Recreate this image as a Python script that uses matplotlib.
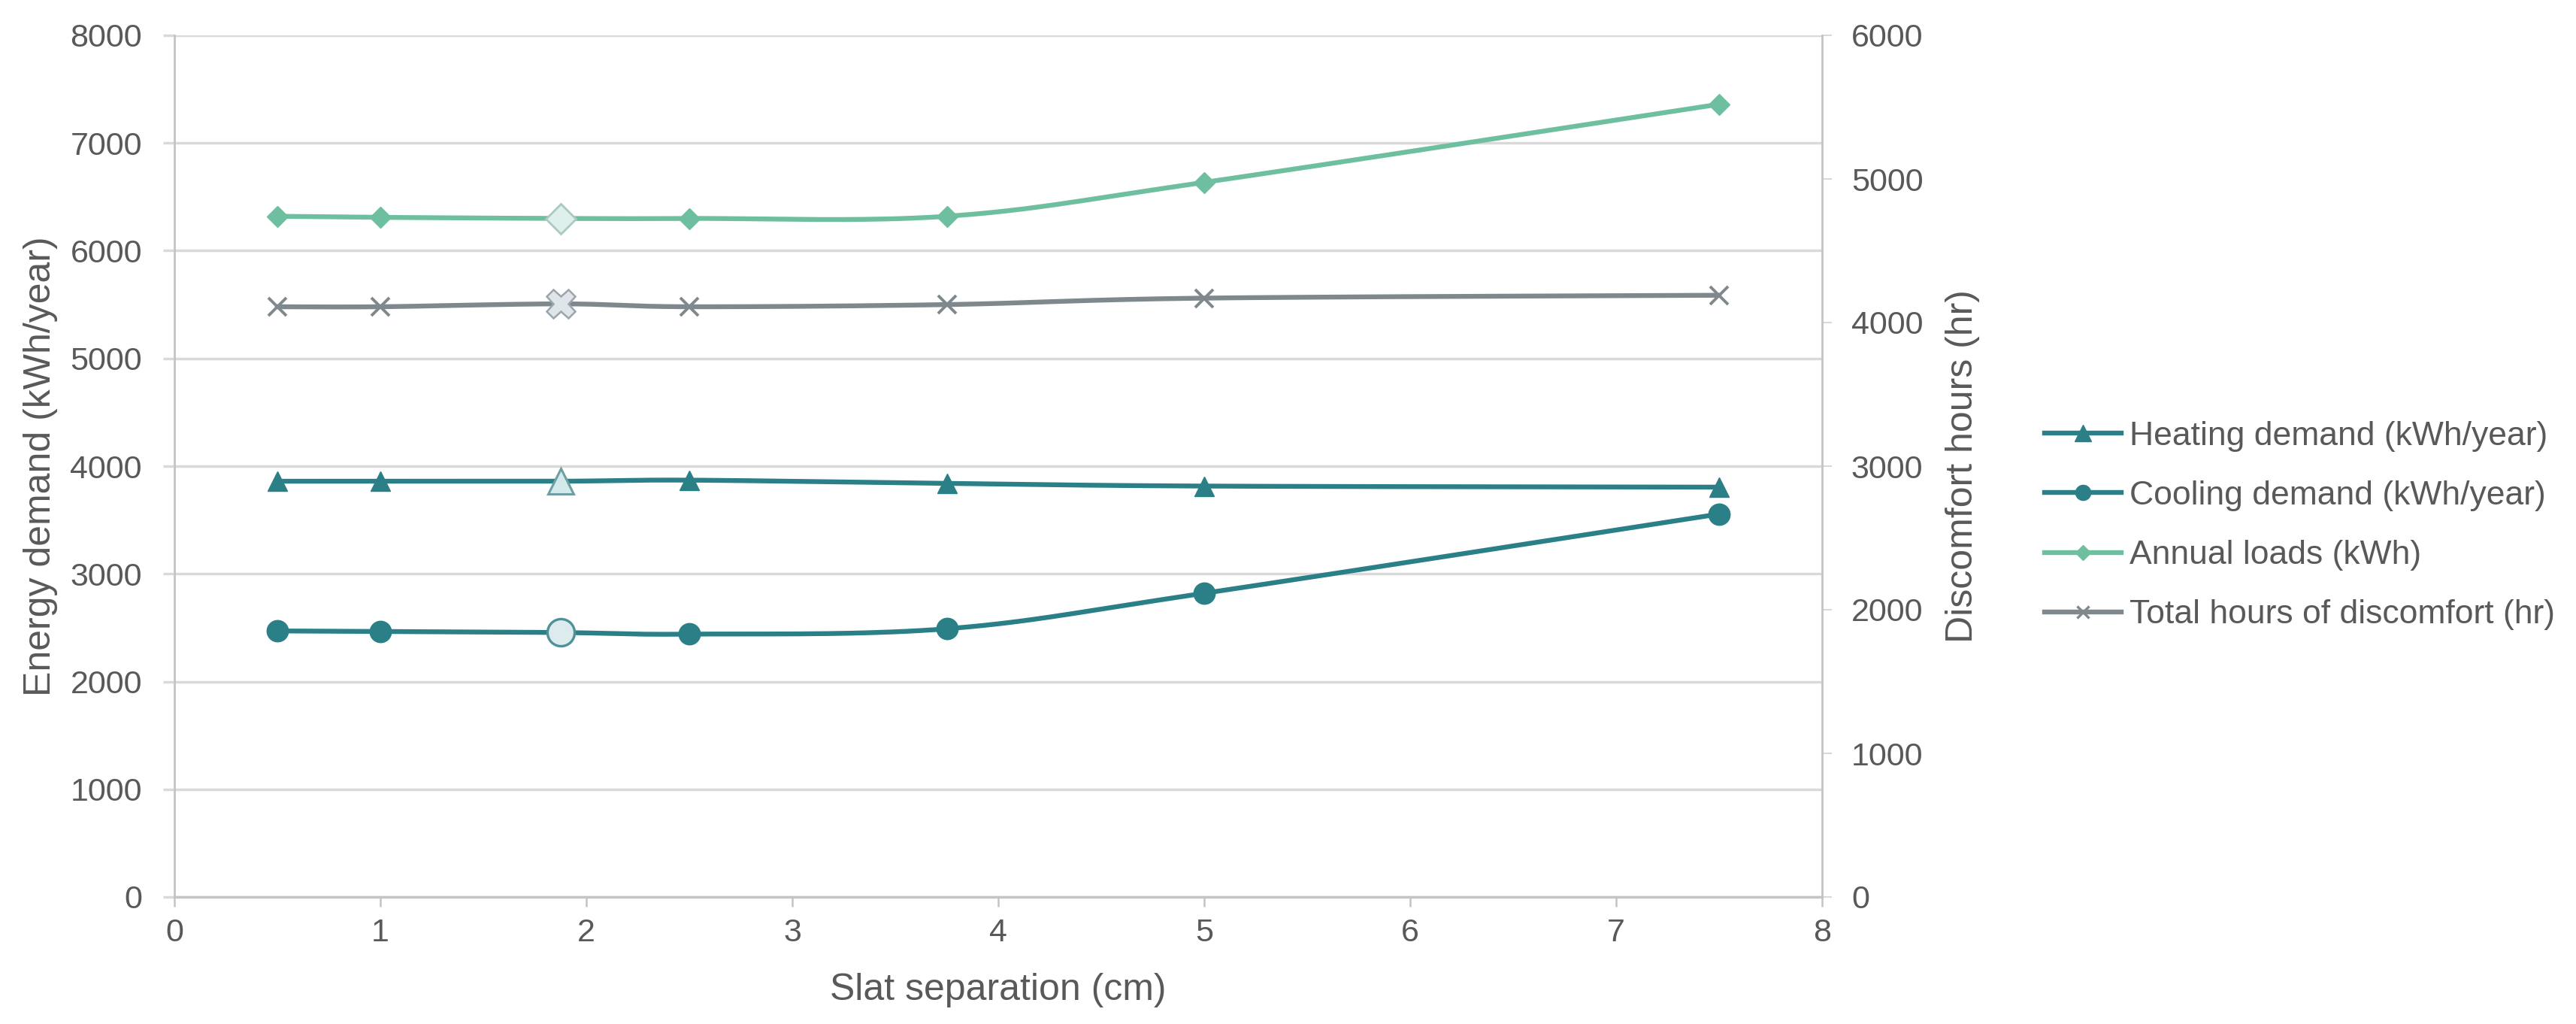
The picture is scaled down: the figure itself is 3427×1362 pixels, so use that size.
import numpy as np
import matplotlib
matplotlib.use("Agg")
import matplotlib.pyplot as plt
from matplotlib.lines import Line2D

# ---- data ----
slat_sep = [0.5, 1, 1.875, 2.5, 3.75, 5, 7.5]
heating = [3860, 3860, 3860, 3870, 3840, 3815, 3805]
cooling = [2470, 2465, 2455, 2440, 2490, 2820, 3555]
annual = [6320, 6310, 6300, 6300, 6320, 6635, 7360]
discomfort = [4110, 4110, 4130, 4110, 4125, 4170, 4190]
highlight_idx = 2

series_labels = ["Heating demand (kWh/year)", "Cooling demand (kWh/year)",
                 "Annual loads (kWh)", "Total hours of discomfort (hr)"]
left_ticks = [0, 1000, 2000, 3000, 4000, 5000, 6000, 7000, 8000]
right_ticks = [0, 1000, 2000, 3000, 4000, 5000, 6000]
x_ticks = [0, 1, 2, 3, 4, 5, 6, 7, 8]

plt.rcParams['font.family'] = ['Liberation Sans', 'DejaVu Sans']

TXT = "#595959"
GRID = "#d9d9d9"
SPINE = "#c4c4c4"
TEAL = "#2b7f87"
GREEN = "#6dbf9f"
GRAY = "#7f898d"


def smooth(xs, ys, n=40):
    P = np.column_stack([xs, ys]).astype(float)
    ext = np.vstack([P[0], P, P[-1]])
    out = []
    t = np.linspace(0, 1, n)[:, None]
    for i in range(len(P) - 1):
        p0, p1, p2, p3 = ext[i], ext[i + 1], ext[i + 2], ext[i + 3]
        c1 = p1 + (p2 - p0) / 6.0
        c2 = p2 - (p3 - p1) / 6.0
        seg = (1 - t) ** 3 * p1 + 3 * (1 - t) ** 2 * t * c1 + 3 * (1 - t) * t ** 2 * c2 + t ** 3 * p2
        out.append(seg if i == 0 else seg[1:])
    return np.vstack(out)


fig = plt.figure(figsize=(34.27, 13.62), dpi=100)
ax = fig.add_axes([232 / 3427, 1 - 1193 / 1362, 2192 / 3427, 1146 / 1362])
ax2 = ax.twinx()

LW = 4.6


def draw(a, xs, ys, color, marker, ms, hl_ms, hl_fc, hl_ec, mew=1.0, hl_mew=2.0, z=3):
    s = smooth(xs, ys)
    a.plot(s[:, 0], s[:, 1], color=color, lw=LW, zorder=z, solid_capstyle='round')
    idx = [i for i in range(len(xs)) if i != highlight_idx]
    a.plot([xs[i] for i in idx], [ys[i] for i in idx], linestyle='none', marker=marker,
           ms=ms, mfc=color, mec=color, mew=mew, zorder=z + 1)
    a.plot([xs[highlight_idx]], [ys[highlight_idx]], linestyle='none', marker=marker,
           ms=hl_ms, mfc=hl_fc, mec=hl_ec, mew=hl_mew, zorder=z + 2)


draw(ax, slat_sep, heating, TEAL, '^', 18.5, 25, "#d3e9ec", "#6f9fa4", hl_mew=2.2)
draw(ax, slat_sep, cooling, TEAL, 'o', 20.5, 26, "#dcecee", "#4f9197", hl_mew=2.4)
draw(ax, slat_sep, annual, GREEN, 'D', 14, 20, "#dff0ec", "#a9c9c1", hl_mew=2.0)
# discomfort on right axis
s = smooth(slat_sep, discomfort)
ax2.plot(s[:, 0], s[:, 1], color=GRAY, lw=LW, zorder=3)
idx = [i for i in range(len(slat_sep)) if i != highlight_idx]
ax2.plot([slat_sep[i] for i in idx], [discomfort[i] for i in idx], linestyle='none',
         marker='x', ms=17, mec=GRAY, mew=2.8, zorder=4)
ax2.plot([slat_sep[highlight_idx]], [discomfort[highlight_idx]], linestyle='none',
         marker='X', ms=28, mfc="#dfe5e8", mec="#9aa6ab", mew=1.8, zorder=5)

# axes limits / ticks
ax.set_xlim(0, 8)
ax.set_ylim(0, 8000)
ax2.set_ylim(0, 6000)
ax.set_xticks(x_ticks)
ax.set_yticks(left_ticks)
ax2.set_yticks(right_ticks)

ax.grid(axis='y', color=GRID, lw=2.5, zorder=0)
ax.grid(axis='x', visible=False)
ax.set_axisbelow(True)

for sp in ['top', 'right']:
    ax.spines[sp].set_visible(False)
ax.spines['left'].set_color(SPINE)
ax.spines['left'].set_linewidth(2.0)
ax.spines['bottom'].set_color(SPINE)
ax.spines['bottom'].set_linewidth(2.5)
for sp in ['top', 'left', 'bottom']:
    ax2.spines[sp].set_visible(False)
ax2.spines['right'].set_color(SPINE)
ax2.spines['right'].set_linewidth(2.0)

ax.tick_params(axis='y', direction='out', length=11, width=2.5, color=GRID,
               labelsize=31, labelcolor=TXT, pad=20)
ax.tick_params(axis='x', direction='out', length=9, width=1.8, color=SPINE,
               labelsize=31, labelcolor=TXT, pad=11)
ax2.tick_params(axis='y', direction='out', length=9, width=1.5, color=GRID,
                labelsize=31, labelcolor=TXT, pad=19)

ax.set_xlabel("Slat separation (cm)", fontsize=36, color=TXT, va='center')
ax.xaxis.set_label_coords(0.5, -0.1082)
ax.set_ylabel("Energy demand (kWh/year)", fontsize=36, color=TXT, va='center')
ax.yaxis.set_label_coords(-0.0812, 0.5)
ax2.set_ylabel("Discomfort hours (hr)", fontsize=36, color=TXT, va='center')
ax2.yaxis.set_label_coords(1.0853, 0.5)

handles = [
    Line2D([], [], color=TEAL, lw=LW, marker='^', ms=16, mfc=TEAL, mec=TEAL),
    Line2D([], [], color=TEAL, lw=LW, marker='o', ms=14.5, mfc=TEAL, mec=TEAL),
    Line2D([], [], color=GREEN, lw=LW, marker='D', ms=10, mfc=GREEN, mec=GREEN),
    Line2D([], [], color=GRAY, lw=LW, marker='x', ms=12, mec=GRAY, mew=2.4),
]
fig.legend(handles, series_labels, loc='center left',
           bbox_to_anchor=(2720 / 3427, 1 - 699 / 1362), frameon=False,
           fontsize=32, labelcolor=TXT, borderpad=0, borderaxespad=0,
           handlelength=2.3, handletextpad=0.25, labelspacing=0.86)

fig.savefig("out.png", dpi=100, facecolor='white')
